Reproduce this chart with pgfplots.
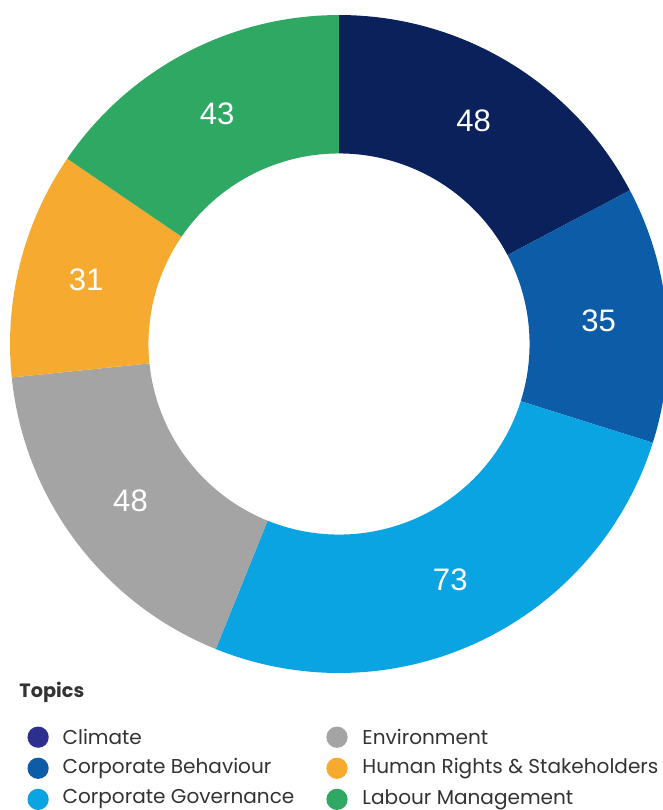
\documentclass[border=0pt]{standalone}
\usepackage{pgfplots}
\pgfplotsset{compat=1.18}
\usepackage{pgfplotstable}
\usepackage{fontspec}
\setmainfont{Poppins}
\newfontfamily\numfont{Liberation Sans}
\definecolor{cClimate}{HTML}{0A215C}
\definecolor{cClimateL}{HTML}{2E2E8E}
\definecolor{cBehav}{HTML}{0D5CA8}
\definecolor{cGov}{HTML}{0AA4E2}
\definecolor{cEnv}{HTML}{A4A4A4}
\definecolor{cHR}{HTML}{F6AA30}
\definecolor{cLab}{HTML}{2EA862}
\definecolor{txt}{HTML}{333333}

\pgfplotstableread{
id value
1 48
2 35
3 73
4 48
5 31
6 43
}\datatable

\newcommand\sector[4]{%
  \fill[#3] ([shift={(#1:164pt)}]axis cs:338,-343) arc[start angle=#1,end angle=#2,radius=164pt]
    -- ([shift={(#2:95pt)}]axis cs:338,-343) arc[start angle=#2,end angle=#1,radius=95pt] -- cycle;
}
\newcommand\seclabel[3]{%
  \node[text=white,font=\numfont\fontsize{15.5}{18}\selectfont] at ([shift={(#1:130pt)}]axis cs:338,-343) {#3};
}

\begin{document}
\begin{tikzpicture}
\pgfplotstablegetelem{0}{value}\of\datatable \let\vA\pgfplotsretval
\pgfplotstablegetelem{1}{value}\of\datatable \let\vB\pgfplotsretval
\pgfplotstablegetelem{2}{value}\of\datatable \let\vC\pgfplotsretval
\pgfplotstablegetelem{3}{value}\of\datatable \let\vD\pgfplotsretval
\pgfplotstablegetelem{4}{value}\of\datatable \let\vE\pgfplotsretval
\pgfplotstablegetelem{5}{value}\of\datatable \let\vF\pgfplotsretval
\pgfmathsetmacro\total{\vA+\vB+\vC+\vD+\vE+\vF}
\pgfmathsetmacro\aO{90}
\pgfmathsetmacro\aA{\aO-360*(\vA/\total)}
\pgfmathsetmacro\aB{\aA-360*(\vB/\total)}
\pgfmathsetmacro\aC{\aB-360*(\vC/\total)}
\pgfmathsetmacro\aD{\aC-360*(\vD/\total)}
\pgfmathsetmacro\aE{\aD-360*(\vE/\total)}
\pgfmathsetmacro\aF{\aE-360*(\vF/\total)}
\pgfmathsetmacro\mA{(\aO+\aA)/2}
\pgfmathsetmacro\mB{(\aA+\aB)/2}
\pgfmathsetmacro\mC{(\aB+\aC)/2}
\pgfmathsetmacro\mD{(\aC+\aD)/2}
\pgfmathsetmacro\mE{(\aD+\aE)/2}
\pgfmathsetmacro\mF{(\aE+\aF)/2}
\begin{axis}[
  x=0.5pt, y=0.5pt,
  xmin=0, xmax=661, ymin=-810, ymax=0,
  hide axis,
  clip=true,
]
\addplot[draw=none] coordinates {(0,0)};
\sector{\aO}{\aA}{cClimate}{\vA}
\sector{\aA}{\aB}{cBehav}{\vB}
\sector{\aB}{\aC}{cGov}{\vC}
\sector{\aC}{\aD}{cEnv}{\vD}
\sector{\aD}{\aE}{cHR}{\vE}
\sector{\aE}{\aF}{cLab}{\vF}
\seclabel{\mA}{}{\vA}
\seclabel{\mB}{}{\vB}
\seclabel{\mC}{}{\vC}
\seclabel{\mD}{}{\vD}
\seclabel{\mE}{}{\vE}
\seclabel{\mF}{}{\vF}
% legend
\node[anchor=west,text=txt,font=\bfseries\fontsize{9.6}{12}\selectfont,inner sep=0pt] at (axis cs:19,-690) {Topics};
\fill[cClimateL] (axis cs:38,-735) circle[radius=5.3pt];
\fill[cBehav] (axis cs:38,-766) circle[radius=5.3pt];
\fill[cGov] (axis cs:38,-797) circle[radius=5.3pt];
\fill[cEnv] (axis cs:336,-735) circle[radius=5.3pt];
\fill[cHR] (axis cs:336,-766) circle[radius=5.3pt];
\fill[cLab] (axis cs:336,-797) circle[radius=5.3pt];
\begin{scope}[every node/.style={anchor=west,text=txt,font=\fontsize{10}{12}\selectfont,inner sep=0pt}]
\node at (axis cs:62,-735) {Climate};
\node at (axis cs:62,-766) {Corporate Behaviour};
\node at (axis cs:62,-797) {Corporate Governance};
\node at (axis cs:361,-735) {Environment};
\node at (axis cs:361,-766) {Human Rights \& Stakeholders};
\node at (axis cs:361,-797) {Labour Management};
\end{scope}
\end{axis}
\end{tikzpicture}
\end{document}
